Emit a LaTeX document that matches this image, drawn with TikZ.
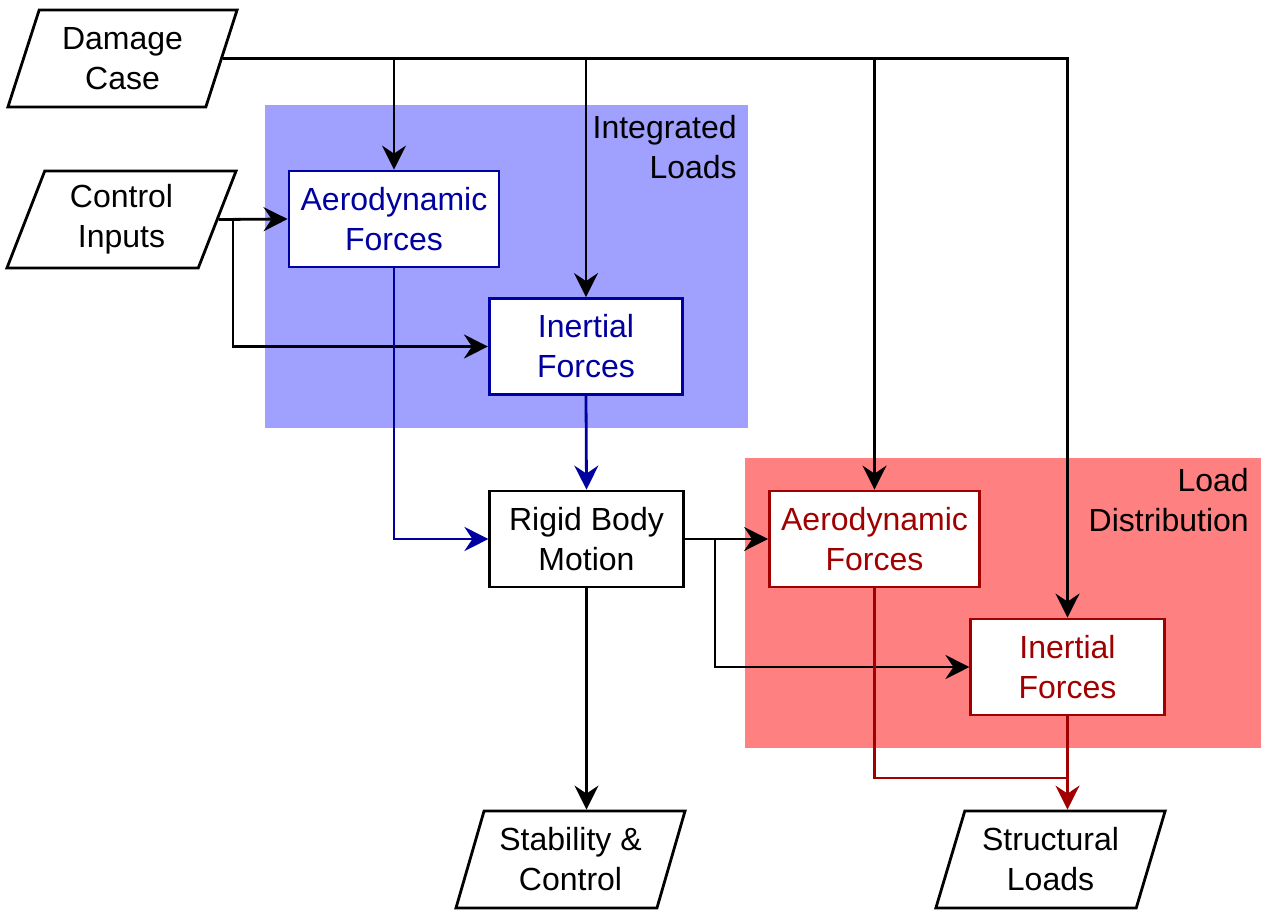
\documentclass[tikz,border=0pt]{standalone}
\usepackage{xcolor}
\usepackage{fontspec}
\setmainfont{Liberation Sans}
\usetikzlibrary{shapes.geometric,arrows.meta}
\definecolor{intblue}{HTML}{0000A0}
\definecolor{intfill}{HTML}{A0A0FF}
\definecolor{distred}{HTML}{A00000}
\definecolor{distfill}{HTML}{FF8080}

\begin{document}
\begin{tikzpicture}[x=0.75pt,y=-0.75pt,
  every node/.style={font=\fontsize{24}{30}\selectfont},
  block/.style={draw,fill=white,line width=2.1pt,align=center,minimum height=72pt,inner sep=0pt},
  wideblock/.style={block,minimum width=157.5pt},
  narrowblock/.style={block,minimum width=145pt},
  io/.style={trapezium,trapezium left angle=70,trapezium right angle=110,trapezium stretches=true,
    draw,fill=white,line width=2.1pt,align=center,minimum width=172pt,minimum height=72.75pt,inner sep=0pt},
  tag/.style={align=right,anchor=east,inner sep=0pt},
  flow/.style={line width=2.1pt,-{Stealth[length=18pt,width=18pt,inset=6pt]}},
  flowblue/.style={flow,color=intblue},
  flowred/.style={flow,color=distred}]
\useasboundingbox (0,0) rectangle (1263,911);
% shaded areas
\fill[intfill] (265,105) rectangle (748,428);
\fill[distfill] (745,458) rectangle (1261,748);
\node[tag] (intlabel) at (737,147) {Integrated\\Loads};
\node[tag] (distlabel) at (1249,500) {Load\\Distribution};
% inputs
\node[io] (dmg) at (122.5,58.5) {Damage\\Case};
\node[io] (ctl) at (121.5,219.5) {Control\\Inputs};
% integrated loads
\node[wideblock,draw=intblue,text=intblue] (aeroB) at (394,219) {Aerodynamic\\Forces};
\node[narrowblock,draw=intblue,text=intblue] (inB) at (586,346.5) {Inertial\\Forces};
\node[narrowblock] (rigid) at (586.5,539) {Rigid Body\\Motion};
% load distribution
\node[wideblock,draw=distred,text=distred] (aeroR) at (874.5,539) {Aerodynamic\\Forces};
\node[narrowblock,draw=distred,text=distred] (inR) at (1067.5,667) {Inertial\\Forces};
% outputs
\node[io] (stab) at (570.5,859.5) {Stability \&\\Control};
\node[io] (struct) at (1050.5,859.5) {Structural\\Loads};
% damage case
\draw[flow] (dmg.east) -| (inR.north);
\draw[flow] (dmg.east -| aeroB.north) -- (aeroB.north);
\draw[flow] (dmg.east -| inB.north) -- (inB.north);
\draw[flow] (dmg.east -| aeroR.north) -- (aeroR.north);
% control inputs
\coordinate (ctlsplit) at (233,219.5);
\draw[flow] (ctl.east) -- (aeroB.west);
\draw[flow] (ctlsplit) |- (inB.west);
% to rigid body
\draw[flowblue] (aeroB.south) |- (rigid.west);
\draw[flowblue] (inB.south) -- (rigid.north);
% from rigid body
\coordinate (rigsplit) at (715,539);
\draw[flow] (rigid.east) -- (aeroR.west);
\draw[flow] (rigsplit) |- (inR.west);
\draw[flow] (rigid.south) -- (rigid.south |- stab.north);
% to structural loads
\coordinate (redjoin) at (1068.5,778);
\draw[flowred] (inR.south) -- (inR.south |- struct.north);
\draw[line width=2.1pt,draw=distred] (aeroR.south) |- (redjoin);
\end{tikzpicture}
\end{document}
